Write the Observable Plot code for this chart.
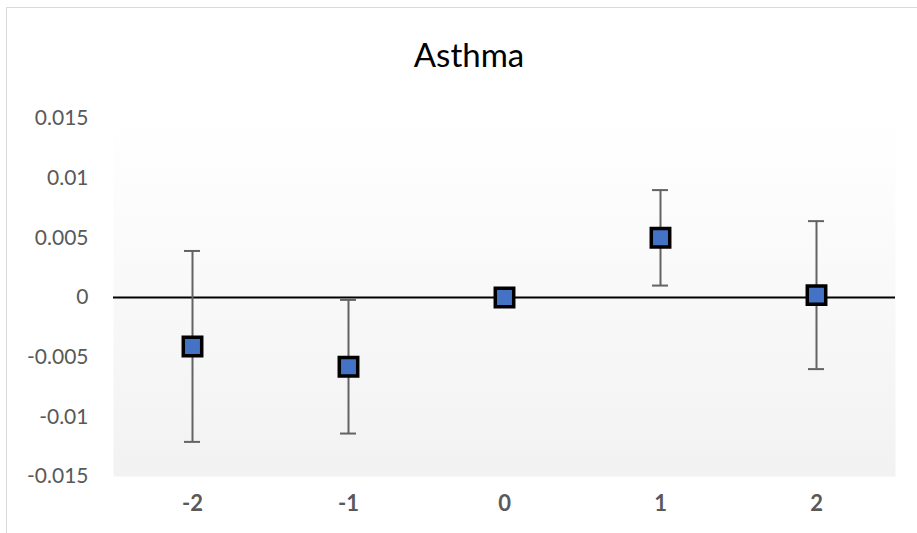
<!DOCTYPE html>
<html>
<head>
<meta charset="utf-8">
<script src="https://cdn.jsdelivr.net/npm/d3@7"></script>
<script src="https://cdn.jsdelivr.net/npm/@observablehq/plot@0.6"></script>
<style>
  body { margin: 0; background: #fff; }
  #wrap { position: relative; width: 917px; height: 533px; overflow: hidden; background: #fff; }
  #border { position: absolute; left: 6px; top: 7px; width: 1000px; height: 1000px;
            border-left: 1.5px solid #d9d9d9; border-top: 1.5px solid #d9d9d9; pointer-events: none; }
  #title { position: relative; box-sizing: border-box; width: 938px; height: 90px; padding-top: 35px;
           text-align: center; font-family: Lato, "Open Sans", sans-serif; font-size: 33px;
           line-height: 39.6px; color: #000; }
  #chart { position: relative; }
</style>
</head>
<body>
<div id="wrap">
  <div id="border"></div>
  <div id="title">Asthma</div>
  <div id="chart"></div>
</div>
<script>
// Data
const categories = ["-2", "-1", "0", "1", "2"];
const estimates = [-0.0041, -0.0058, 0.0, 0.005, 0.0002];
const errors = [0.008, 0.0056, 0.0, 0.004, 0.0062];
const yTicks = [-0.015, -0.01, -0.005, 0, 0.005, 0.01, 0.015];

const data = categories.map((c, i) => ({
  cat: c,
  est: estimates[i],
  lo: estimates[i] - errors[i],
  hi: estimates[i] + errors[i],
  err: errors[i]
}));
const withErr = data.filter(d => d.err > 0);

const plot = Plot.plot({
  width: 917,
  height: 443,
  marginTop: 28,
  marginBottom: 57,
  marginLeft: 113,
  marginRight: 22,
  style: { fontFamily: "Lato, 'Open Sans', sans-serif", background: "transparent" },
  x: { type: "band", domain: categories, padding: 0 },
  y: { domain: [-0.015, 0.015] },
  marks: [
    Plot.frame({ fill: "url(#bgGrad)", stroke: "none" }),
    Plot.axisY({
      ticks: yTicks, tickSize: 0, tickPadding: 25,
      tickFormat: d => d === 0 ? "0" : String(d),
      fill: "#595959", fontSize: 21, label: null
    }),
    Plot.axisX({
      tickSize: 0, tickPadding: 19, fill: "#595959", fontSize: 22,
      fontWeight: "bold", label: null
    }),
    Plot.ruleY([0], { stroke: "#000", strokeWidth: 2 }),
    Plot.ruleX(withErr, { x: "cat", y1: "lo", y2: "hi", stroke: "#636363", strokeWidth: 2 }),
    Plot.tickY(withErr, { x: "cat", y: "hi", stroke: "#636363", strokeWidth: 2, insetLeft: 70, insetRight: 70 }),
    Plot.tickY(withErr, { x: "cat", y: "lo", stroke: "#636363", strokeWidth: 2, insetLeft: 70, insetRight: 70 }),
    Plot.dot(data, { x: "cat", y: "est", symbol: "square", r: 10.4, fill: "#4472C4", stroke: "#000", strokeWidth: 3.5 })
  ]
});

// gradient background for the plot area
const svg = d3.select(plot);
const defs = svg.insert("defs", ":first-child");
const grad = defs.append("linearGradient")
  .attr("id", "bgGrad").attr("x1", 0).attr("y1", 0).attr("x2", 0).attr("y2", 1);
grad.append("stop").attr("offset", "0%").attr("stop-color", "#ffffff");
grad.append("stop").attr("offset", "100%").attr("stop-color", "#f2f2f2");

document.getElementById("chart").appendChild(plot);
</script>
</body>
</html>
